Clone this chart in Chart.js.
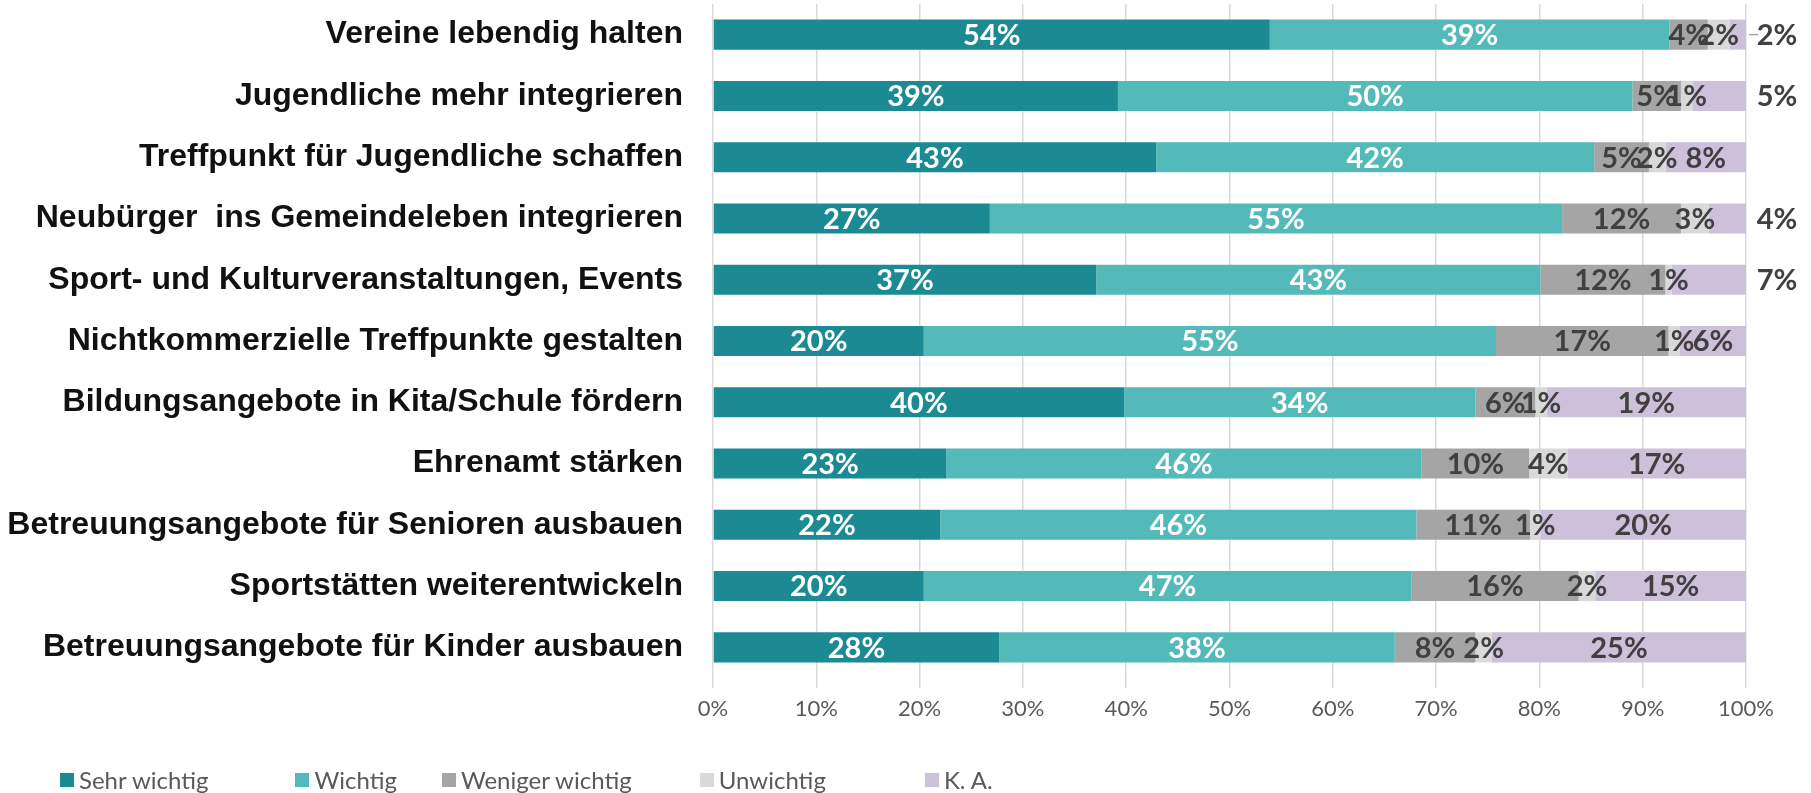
<!DOCTYPE html>
<html lang="de">
<head>
<meta charset="utf-8">
<script src="https://cdn.jsdelivr.net/npm/chart.js@4"></script>
<style>
  html, body { margin: 0; padding: 0; background: #fff; }
  #wrap { position: relative; width: 1811px; height: 793px; }
  #legende { position: absolute; left: 60px; top: 765px; display: flex; font: 24px Lato, sans-serif; color: #595959; line-height: 30px; }
  .eintrag { display: flex; align-items: center; }
  .kasten { width: 14px; height: 14px; margin-right: 5px; }
</style>
</head>
<body>
<div id="wrap">
  <canvas id="grafik" width="1811" height="793"></canvas>
  <div id="legende"></div>
</div>
<script>
const kategorien = [
  "Vereine lebendig halten",
  "Jugendliche mehr integrieren",
  "Treffpunkt für Jugendliche schaffen",
  "Neubürger  ins Gemeindeleben integrieren",
  "Sport- und Kulturveranstaltungen, Events",
  "Nichtkommerzielle Treffpunkte gestalten",
  "Bildungsangebote in Kita/Schule fördern",
  "Ehrenamt stärken",
  "Betreuungsangebote für Senioren ausbauen",
  "Sportstätten weiterentwickeln",
  "Betreuungsangebote für Kinder ausbauen"
];
const serien = ["Sehr wichtig", "Wichtig", "Weniger wichtig", "Unwichtig", "K. A."];
const sehrWichtig    = [53.9, 39.2, 42.9, 26.8, 37.1, 20.4, 39.8, 22.6, 22.0, 20.4, 27.7];
const wichtig        = [38.7, 49.8, 42.4, 55.4, 43.0, 55.4, 34.0, 46.0, 46.1, 47.2, 38.3];
const wenigerWichtig = [3.7, 4.7, 5.3, 11.5, 12.1, 16.7, 5.8, 10.4, 11.0, 16.2, 7.8];
const unwichtig      = [2.1, 1.1, 1.6, 2.7, 0.6, 1.1, 1.1, 3.7, 1.0, 1.6, 1.6];
const keineAngabe    = [1.6, 5.2, 7.8, 3.6, 7.3, 6.4, 19.3, 17.3, 19.9, 14.6, 24.6];
const farben = ["#1c8a93", "#53bab9", "#a5a5a5", "#d9d9d9", "#ccc0da"];
const xTicks = [0, 10, 20, 30, 40, 50, 60, 70, 80, 90, 100];

// K. A.-Werte, die Excel rechts neben den Balken setzt
const kaAussen = [0, 1, 3, 4];
// Abstand nach jedem Legendeneintrag (px), wie im Excel-Export
const legendeAbstand = [87, 45, 68, 99, 0];

const werte = [sehrWichtig, wichtig, wenigerWichtig, unwichtig, keineAngabe];

const wertLabels = {
  id: 'wertLabels',
  afterDatasetsDraw(chart) {
    const ctx = chart.ctx;
    const area = chart.chartArea;
    ctx.save();
    ctx.font = "bold 29px Lato, 'Open Sans', sans-serif";
    ctx.textBaseline = 'middle';
    ctx.textAlign = 'center';
    chart.data.datasets.forEach((ds, i) => {
      chart.getDatasetMeta(i).data.forEach((bar, j) => {
        const v = Math.round(ds.data[j]);
        let x = (bar.x + bar.base) / 2;
        if (i === 4 && kaAussen.includes(j)) {
          x = area.right + 31;
          if (v <= 2) {
            ctx.strokeStyle = '#a6a6a6';
            ctx.lineWidth = 1.5;
            ctx.beginPath();
            ctx.moveTo(area.right + 3, bar.y);
            ctx.lineTo(area.right + 12, bar.y);
            ctx.stroke();
          }
        }
        ctx.fillStyle = i < 2 ? '#ffffff' : '#404040';
        ctx.fillText(v + '%', x, bar.y + 1);
      });
    });
    ctx.restore();
  }
};

const chart = new Chart(document.getElementById('grafik').getContext('2d'), {
  type: 'bar',
  data: {
    labels: kategorien,
    datasets: serien.map((s, i) => ({
      label: s,
      data: werte[i],
      backgroundColor: farben[i],
      borderWidth: 0,
      categoryPercentage: 1,
      barPercentage: 0.49
    }))
  },
  options: {
    indexAxis: 'y',
    responsive: false,
    animation: false,
    devicePixelRatio: 1,
    layout: { padding: { top: 4, right: 65, bottom: 0, left: 0 } },
    plugins: { legend: { display: false }, tooltip: { enabled: false } },
    scales: {
      x: {
        stacked: true,
        min: 0,
        max: 100,
        afterBuildTicks(scale) { scale.ticks = xTicks.map(v => ({ value: v })); },
        afterFit(scale) { scale.height = 115; },
        border: { display: false },
        grid: { color: '#d9d9d9', lineWidth: 1.5, tickLength: 10, drawTicks: true },
        ticks: {
          padding: 8,
          color: '#595959',
          font: { family: 'Lato, sans-serif', size: 22 },
          callback: v => v + '%'
        }
      },
      y: {
        stacked: true,
        afterFit(scale) {
          scale.width = 713;
          scale.paddingTop = 0;
          scale.paddingBottom = 0;
        },
        border: { display: false },
        grid: { display: false, drawTicks: true, tickLength: 30 },
        ticks: {
          padding: 0,
          color: '#111111',
          font: { family: "'Liberation Sans', Arial, sans-serif", size: 32, weight: 'bold' }
        }
      }
    }
  },
  plugins: [wertLabels]
});

const legende = document.getElementById('legende');
chart.data.datasets.forEach((ds, i) => {
  const e = document.createElement('div');
  e.className = 'eintrag';
  e.style.marginRight = legendeAbstand[i] + 'px';
  e.innerHTML = `<span class="kasten" style="background:${ds.backgroundColor}"></span><span>${ds.label}</span>`;
  legende.appendChild(e);
});
</script>
</body>
</html>
